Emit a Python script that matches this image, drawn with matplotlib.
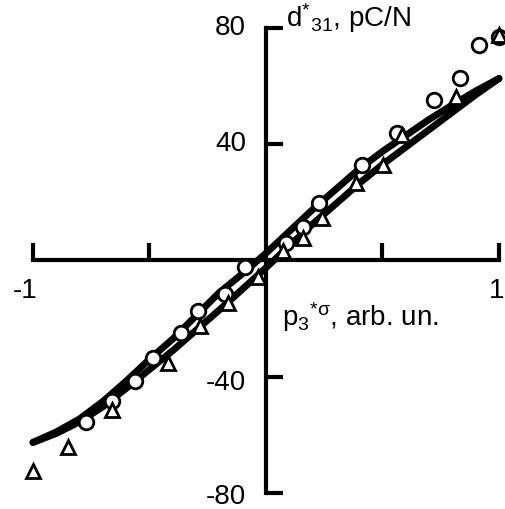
import matplotlib
matplotlib.use("Agg")
import matplotlib.pyplot as plt

plt.rcParams["font.family"] = ["Liberation Sans", "DejaVu Sans"]
plt.rcParams["mathtext.fontset"] = "custom"
plt.rcParams["mathtext.rm"] = "Liberation Sans"
plt.rcParams["mathtext.it"] = "Liberation Sans"
plt.rcParams["mathtext.sf"] = "Liberation Sans"

# --- data ---
curve_x = [-1, -0.9, -0.8, -0.7, -0.6, -0.5, -0.4, -0.3, -0.2, -0.1, 0,
           0.1, 0.2, 0.3, 0.4, 0.5, 0.6, 0.7, 0.8, 0.9, 1]
curve_a = [-62.6, -59.0, -54.5, -48.5, -41.5, -34.0, -27.0, -19.0, -11.0, -4.5, 2.5,
           10.0, 17.5, 24.5, 31.5, 37.5, 43.0, 48.5, 53.5, 58.3, 62.6]
curve_b = [-62.6, -59.5, -55.5, -50.3, -44.0, -37.5, -31.0, -24.0, -17.0, -9.8, -2.5,
           5.0, 12.5, 19.5, 26.5, 33.0, 39.0, 45.0, 51.0, 57.0, 62.6]

circ_x = [-0.773, -0.661, -0.562, -0.485, -0.365, -0.292, -0.176, -0.090,
          0.086, 0.159, 0.227, 0.412, 0.562, 0.721, 0.833, 0.914, 1.0]
circ_y = [-55.7, -48.2, -41.3, -33.7, -25.1, -17.5, -11.4, -2.4,
          5.9, 11.4, 19.6, 33.0, 44.0, 55.1, 62.6, 74.0, 76.7]

tri_x = [-1.0, -0.850, -0.661, -0.421, -0.283, -0.163, -0.034,
         0.073, 0.159, 0.240, 0.386, 0.502, 0.584, 0.815, 1.0]
tri_y = [-72.3, -64.3, -51.3, -35.4, -22.4, -14.5, -5.8,
         3.1, 7.6, 14.5, 26.8, 32.7, 43.0, 56.1, 77.4]

x_ticks = [-1, -0.5, 0.5, 1]
y_ticks = [-80, -40, 40, 80]
x_labels = {-1: "-1", 1: "1"}

fig = plt.figure(figsize=(5.05, 5.09), dpi=100)
ax = fig.add_axes([0, 0, 1, 1])
ax.set_xlim(-1.1416, 1.0258)
ax.set_ylim(-85.5, 89.6)

ax.plot(curve_x, curve_a, color="black", lw=5, solid_capstyle="round", zorder=2)
ax.plot(curve_x, curve_b, color="black", lw=5, solid_capstyle="round", zorder=2)
ax.plot(circ_x, circ_y, "o", ms=10.5, mfc="white", mec="black", mew=2, zorder=3)
ax.plot(tri_x, tri_y, "^", ms=10, mfc="white", mec="black", mew=2, zorder=3)

# axes through the origin
for s in ["top", "right"]:
    ax.spines[s].set_visible(False)
ax.spines["left"].set_position(("data", 0))
ax.spines["bottom"].set_position(("data", 0))
ax.spines["left"].set_bounds(-80, 80)
ax.spines["bottom"].set_bounds(-1, 1)
ax.spines["left"].set_linewidth(3)
ax.spines["bottom"].set_linewidth(3)
ax.spines["left"].set_zorder(1)
ax.spines["bottom"].set_zorder(1)

ax.set_xticks(x_ticks)
ax.set_yticks(y_ticks)
ax.set_xticklabels([])
ax.set_yticklabels([])
ax.tick_params(direction="in", length=12, width=3)

label_x = {-1: -1.035, 1: 0.99}
for v, lab in x_labels.items():
    ax.text(label_x[v], -10.5, lab, ha="center", va="center", fontsize=20)
label_y = {80: 80, 40: 40, -40: -42, -80: -81.5}
for v in y_ticks:
    ax.text(-0.085, label_y[v], str(v), ha="right", va="center", fontsize=20)

ax.text(0.085, 80.3, r"d$^{*}$$_{31}$, pC/N", fontsize=20, va="baseline", ha="left")
ax.text(0.07, -22.5, r"p$_{3}$$^{*\sigma}$, arb. un.", fontsize=20, va="baseline", ha="left")

fig.savefig("out.png", dpi=100)
